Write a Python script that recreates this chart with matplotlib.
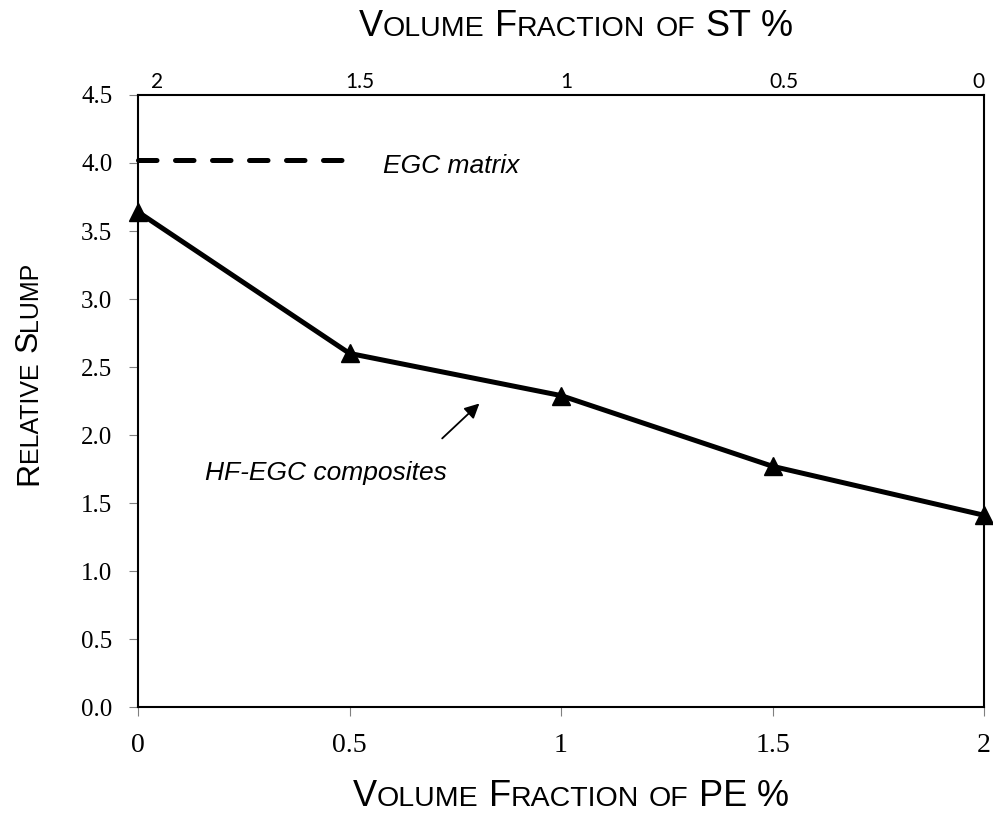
import numpy as np
import matplotlib
matplotlib.use('Agg')
import matplotlib.pyplot as plt
from matplotlib.transforms import ScaledTranslation

# data
pe_frac = [0, 0.5, 1, 1.5, 2]
rel_slump = [3.64, 2.60, 2.29, 1.77, 1.41]
st_labels = ['2', '1.5', '1', '0.5', '0']
egc_matrix = 4.02
egc_span = [0, 0.49]
y_ticks = np.arange(0, 4.51, 0.5)

SANS = 'Liberation Sans'
SERIF = 'Liberation Serif'

fig = plt.figure(figsize=(9.93, 8.14), dpi=100)
ax = fig.add_axes([0.139, 0.1314, 0.852, 0.7519])

# composites
ax.plot(pe_frac, rel_slump, color='black', lw=3.6, marker='^', ms=13,
        clip_on=False, zorder=5)
# plain matrix reference
ax.plot(egc_span, [egc_matrix, egc_matrix], color='black', lw=3.6,
        dashes=(3.7, 3.7), dash_capstyle='round', clip_on=False, zorder=4)

ax.set_xlim(0, 2)
ax.set_ylim(0, 4.5)
ax.set_xticks(pe_frac)
ax.set_xticklabels(['0', '0.5', '1', '1.5', '2'], family=SERIF, fontsize=20)
ax.set_yticks(y_ticks)
ax.set_yticklabels(['%.1f' % v for v in y_ticks], family=SERIF, fontsize=18)
ax.tick_params(direction='out', length=6.5, width=0.8, color='#808080', pad=12)
for s in ax.spines.values():
    s.set_linewidth(1.5)

# top axis for ST fraction
ax2 = ax.twiny()
ax2.set_xlim(ax.get_xlim())
ax2.set_xticks(pe_frac)
ax2.set_xticklabels(st_labels, family='Lato', fontsize=15)
ax2.tick_params(length=0, pad=2)
for s in ax2.spines.values():
    s.set_visible(False)
# labels in the original sit a little off their positions
nudges = [19, 10, 5, 11, -6]
for lab, dx in zip(ax2.get_xticklabels(), nudges):
    lab.set_transform(lab.get_transform() +
                      ScaledTranslation(dx / 100, 0, fig.dpi_scale_trans))

ax.text(0.578, 3.93, 'EGC matrix', family=SANS, style='italic', fontsize=19,
        va='baseline', ha='left')
ax.text(0.729, 1.667, 'HF-EGC composites', family=SANS, style='italic',
        fontsize=19, va='baseline', ha='right')
ax.annotate('', xy=(0.807, 2.232), xytext=(0.719, 1.975),
            arrowprops=dict(arrowstyle='-|>', color='black', lw=1.3,
                            mutation_scale=22, shrinkA=0, shrinkB=0))

W, H = fig.bbox.width, fig.bbox.height
renderer = fig.canvas.get_renderer()


def small_caps(pieces, cx, cy, rot=0, big=26, small=20.5):
    # fake small caps: measure each piece, then lay them along the baseline
    sizes, lens = [], []
    for s, is_big in pieces:
        size = big if is_big else small
        sizes.append(size)
        if s == ' ':
            lens.append(0.278 * size * fig.dpi / 72)
        else:
            t = fig.text(0, 0, s, fontsize=size, family=SANS)
            lens.append(t.get_window_extent(renderer).width)
            t.remove()
    pos = (cx * W if rot == 0 else cy * H) - sum(lens) / 2
    for (s, _), size, ln in zip(pieces, sizes, lens):
        if s != ' ':
            if rot == 0:
                fig.text(pos / W, cy, s, fontsize=size, family=SANS,
                         ha='left', va='baseline')
            else:
                fig.text(cx, pos / H, s, fontsize=size, family=SANS,
                         rotation=90, rotation_mode='anchor',
                         ha='left', va='baseline')
        pos += ln


top_title = [('V', True), ('OLUME', False), (' ', True), ('F', True),
             ('RACTION', False), (' ', True), ('OF', False), (' ', True),
             ('ST', True), (' ', True), ('%', True)]
bot_title = [('V', True), ('OLUME', False), (' ', True), ('F', True),
             ('RACTION', False), (' ', True), ('OF', False), (' ', True),
             ('PE', True), (' ', True), ('%', True)]
y_title = [('R', True), ('ELATIVE', False), (' ', True), ('S', True),
           ('LUMP', False)]

small_caps(top_title, 0.580, 1 - 36 / 814)
small_caps(bot_title, 0.575, 1 - 806 / 814)
small_caps(y_title, 37 / 993, 1 - 373 / 814, rot=90, big=23, small=18)

fig.savefig('out.png', dpi=100)
